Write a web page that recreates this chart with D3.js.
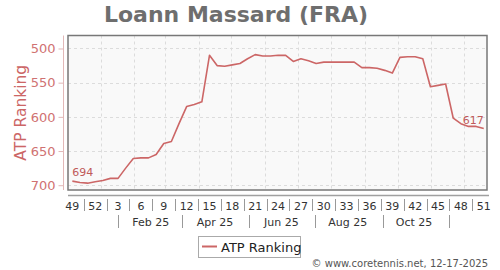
<!DOCTYPE html>
<html>
<head>
<meta charset="utf-8">
<script src="https://cdn.jsdelivr.net/npm/d3@7"></script>
<style>
  html, body { margin: 0; padding: 0; background: #fff; }
  svg { display: block; font-family: "DejaVu Sans", sans-serif; }
</style>
</head>
<body>
<svg id="chart" width="500" height="270"></svg>
<script>
// ---- data ----
const title = "Loann Massard (FRA)";
const seriesName = "ATP Ranking";
const weeks = [49,50,51,52,1,2,3,4,5,6,7,8,9,10,11,12,13,14,15,16,17,18,19,20,21,22,23,24,25,26,27,28,29,30,31,32,33,34,35,36,37,38,39,40,41,42,43,44,45,46,47,48,49,50,51];
const ranking = [694,696,697,695,693,690,690,675,661,660,660,655,639,636,610,585,582,578,510,525,526,524,522,515,509,511,511,510,510,519,515,518,522,520,520,520,520,520,528,528,529,532,536,513,512,512,515,556,554,552,602,610,614,614,617];
const yTicks = [500,550,600,650,700];
const monthLabels = ["Feb 25","Apr 25","Jun 25","Aug 25","Oct 25"];
const monthLabelDates = ["2025-02-16","2025-04-16","2025-06-16","2025-08-16","2025-10-16"];
const monthSeparatorDates = ["2025-01-17","2025-03-17","2025-05-17","2025-07-17","2025-09-17","2025-11-17"];
const gridDates = ["2025-01-01","2025-02-01","2025-03-01","2025-04-01","2025-05-01","2025-06-01","2025-07-01","2025-08-01","2025-09-01","2025-10-01","2025-11-01","2025-12-01"];
const firstDate = "2024-12-06";
const copyright = "\u00A9 www.coretennis.net, 12-17-2025";

// ---- layout ----
const svg = d3.select("#chart");
const plot = {left: 68, right: 487, top: 35.5, bottom: 190};
const lineColor = "#cc6666";
const parse = d3.utcParse("%Y-%m-%d");
const day = 86400000;
const start = parse(firstDate);
const dates = ranking.map((_, i) => new Date(+start + i * 7 * day));

const x = d3.scaleUtc()
  .domain([parse("2024-12-02"), parse("2025-12-22")])
  .range([plot.left, plot.right]);
const y = d3.scaleLinear().domain([481, 707]).range([plot.top, plot.bottom]);

// title
svg.append("text").attr("x", 236).attr("y", 22)
  .attr("text-anchor", "middle").attr("font-size", 22).attr("font-weight", "bold")
  .attr("fill", "#6e6e6e").text(title);

// plot background
svg.append("rect").attr("x", plot.left).attr("y", plot.top)
  .attr("width", plot.right - plot.left).attr("height", plot.bottom - plot.top)
  .attr("fill", "#f9f9f9");

// grid
const grid = svg.append("g").attr("stroke", "#dcdcdc").attr("stroke-dasharray", "3,3").attr("stroke-width", 1);
grid.selectAll("line.h").data(yTicks).join("line")
  .attr("x1", plot.left).attr("x2", plot.right)
  .attr("y1", d => Math.round(y(d)) + 0.5).attr("y2", d => Math.round(y(d)) + 0.5);
grid.selectAll("line.v").data(gridDates.map(parse)).join("line")
  .attr("x1", d => Math.round(x(d)) + 0.5).attr("x2", d => Math.round(x(d)) + 0.5)
  .attr("y1", plot.top).attr("y2", plot.bottom);

// border
svg.append("rect").attr("x", plot.left).attr("y", plot.top)
  .attr("width", plot.right - plot.left).attr("height", plot.bottom - plot.top)
  .attr("fill", "none").attr("stroke", "#777").attr("stroke-width", 1.5);

// y axis
const yAxis = svg.append("g").attr("transform", "translate(63.5,0)")
  .call(d3.axisLeft(y).tickValues(yTicks).tickSize(5).tickPadding(3));
yAxis.select(".domain").attr("stroke", "#e2b8b8").attr("d", `M0,${plot.top}V${plot.bottom}`);
yAxis.selectAll(".tick line").attr("stroke", "#e2b8b8");
yAxis.selectAll(".tick text").attr("fill", "#d07272").attr("font-size", 13)
  .attr("font-family", "DejaVu Sans, sans-serif");

svg.append("text")
  .attr("transform", `translate(26,${(plot.top + plot.bottom) / 2}) rotate(-90)`)
  .attr("text-anchor", "middle").attr("font-size", 15.5).attr("fill", "#cc6666")
  .text(seriesName);

// x axis
svg.append("line").attr("x1", plot.left).attr("x2", plot.right + 2)
  .attr("y1", 195.5).attr("y2", 195.5).attr("stroke", "#a0a0a0").attr("stroke-width", 1.5);

const labelIdx = d3.range(0, weeks.length, 3);
svg.append("g").selectAll("text").data(labelIdx).join("text")
  .attr("x", i => x(dates[i])).attr("y", 209.5)
  .attr("text-anchor", "middle").attr("font-size", 11).attr("fill", "#333")
  .text(i => weeks[i]);
svg.append("g").selectAll("line").data(labelIdx.slice(0, -1)).join("line")
  .attr("x1", i => Math.round(x(new Date(+dates[i] + 10.5 * day))) + 0.5)
  .attr("x2", i => Math.round(x(new Date(+dates[i] + 10.5 * day))) + 0.5)
  .attr("y1", 199).attr("y2", 211).attr("stroke", "#999");

svg.append("g").selectAll("text").data(monthLabels).join("text")
  .attr("x", (d, i) => x(parse(monthLabelDates[i]))).attr("y", 225.5)
  .attr("text-anchor", "middle").attr("font-size", 11).attr("fill", "#333")
  .text(d => d);
svg.append("g").selectAll("line").data(monthSeparatorDates.map(parse)).join("line")
  .attr("x1", d => Math.round(x(d)) + 0.5).attr("x2", d => Math.round(x(d)) + 0.5)
  .attr("y1", 215).attr("y2", 228).attr("stroke", "#999");

// line
const line = d3.line().x((d, i) => x(dates[i])).y(d => y(d));
svg.append("path").datum(ranking).attr("d", line)
  .attr("fill", "none").attr("stroke", lineColor).attr("stroke-width", 1.6)
  .attr("stroke-linejoin", "round");

// end labels
const last = ranking.length - 1;
svg.append("text").attr("x", x(dates[0])).attr("y", y(ranking[0]) - 5)
  .attr("font-size", 11).attr("fill", "#c05a5a").text(ranking[0]);
svg.append("text").attr("x", x(dates[last])).attr("y", y(ranking[last]) - 4)
  .attr("text-anchor", "end").attr("font-size", 11).attr("fill", "#c05a5a").text(ranking[last]);

// legend
const lg = svg.append("g");
lg.append("rect").attr("x", 198.5).attr("y", 236.5).attr("width", 102).attr("height", 21)
  .attr("fill", "#fff").attr("stroke", "#aaa");
lg.append("line").attr("x1", 202).attr("x2", 217).attr("y1", 246.5).attr("y2", 246.5)
  .attr("stroke", lineColor).attr("stroke-width", 2);
lg.append("text").attr("x", 221).attr("y", 251.5).attr("font-size", 13).attr("fill", "#222")
  .text(seriesName);

// copyright
svg.append("text").attr("x", 488).attr("y", 267).attr("text-anchor", "end")
  .attr("font-size", 10).attr("fill", "#555").text(copyright);
</script>
</body>
</html>
